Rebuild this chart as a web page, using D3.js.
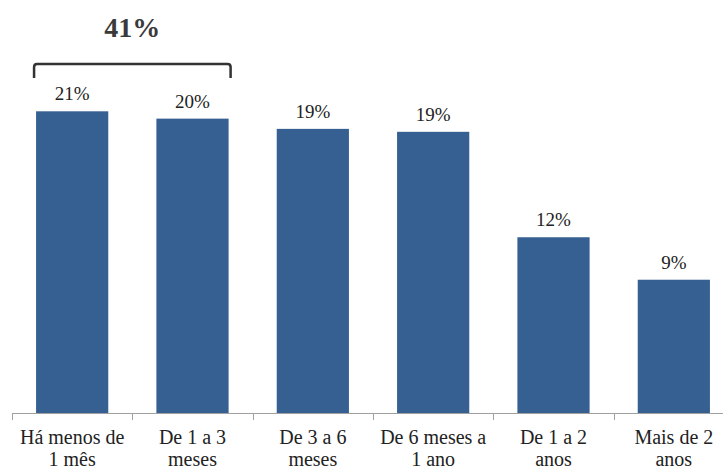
<!DOCTYPE html>
<html>
<head>
<meta charset="utf-8">
<script src="https://cdnjs.cloudflare.com/ajax/libs/d3/7.8.5/d3.min.js"></script>
<style>
  body { margin: 0; background: #fff; }
</style>
</head>
<body>
<div id="chart"></div>
<script>
var categories = [
  ['Há menos de', '1 mês'],
  ['De 1 a 3', 'meses'],
  ['De 3 a 6', 'meses'],
  ['De 6 meses a', '1 ano'],
  ['De 1 a 2', 'anos'],
  ['Mais de 2', 'anos']
];
var values = [20.6, 20.1, 19.4, 19.2, 12.0, 9.1];
var groupIdx = [0, 1];

var serif = "'Times New Roman', Tinos, 'Liberation Serif', 'Nimbus Roman', 'DejaVu Serif', 'Noto Serif', serif";
var width = 723, height = 470;
var svg = d3.select('#chart').append('svg')
  .attr('width', width)
  .attr('height', height);

var x = d3.scaleBand()
  .domain(d3.range(categories.length))
  .range([12, 734])
  .paddingInner(0.4)
  .paddingOuter(0.2);

var y = d3.scaleLinear()
  .domain([0, 28.2])
  .range([413, 0]);

var fmt = function(v){ return Math.round(v) + '%'; };

// bars
svg.selectAll('rect.bar')
  .data(values)
  .enter().append('rect')
  .attr('class', 'bar')
  .attr('x', function(d, i){ return x(i); })
  .attr('y', function(d){ return y(d); })
  .attr('width', x.bandwidth())
  .attr('height', function(d){ return y(0) - y(d); })
  .style('fill', '#365f92');

// value labels
svg.selectAll('text.val')
  .data(values)
  .enter().append('text')
  .attr('class', 'val')
  .attr('x', function(d, i){ return x(i) + x.bandwidth() / 2; })
  .attr('y', function(d){ return y(d) - 11; })
  .attr('text-anchor', 'middle')
  .attr('font-family', serif)
  .attr('font-size', 19)
  .attr('fill', '#222')
  .text(fmt);

// axis
var axis = svg.append('g');
axis.append('line')
  .attr('x1', 12).attr('x2', 734)
  .attr('y1', 413.5).attr('y2', 413.5)
  .style('stroke', '#a0a0a0');
var step = x.step();
axis.selectAll('line.tick')
  .data(d3.range(categories.length + 1))
  .enter().append('line')
  .attr('class', 'tick')
  .attr('x1', function(i){ return Math.round(12 + i * step) + 0.5; })
  .attr('x2', function(i){ return Math.round(12 + i * step) + 0.5; })
  .attr('y1', 413).attr('y2', 420)
  .style('stroke', '#a0a0a0');

// category labels
var cat = svg.selectAll('text.cat')
  .data(categories)
  .enter().append('text')
  .attr('class', 'cat')
  .attr('text-anchor', 'middle')
  .attr('x', function(d, i){ return x(i) + x.bandwidth() / 2; })
  .attr('y', 444)
  .attr('font-family', serif)
  .attr('font-size', 20)
  .attr('fill', '#222');
cat.selectAll('tspan')
  .data(function(d){ return d; })
  .enter().append('tspan')
  .attr('x', function(){ return d3.select(this.parentNode).attr('x'); })
  .attr('dy', function(d, j){ return j === 0 ? 0 : 22; })
  .text(function(d){ return d; });

// bracket over the first two bars
var bx0 = x(groupIdx[0]) - 2;
var bx1 = x(groupIdx[1]) + x.bandwidth() + 2;
svg.append('path')
  .attr('d', 'M' + bx0 + ',78 L' + bx0 + ',67 Q' + bx0 + ',64 ' + (bx0 + 3) + ',64 L' + (bx1 - 3) + ',64 Q' + bx1 + ',64 ' + bx1 + ',67 L' + bx1 + ',78')
  .style('fill', 'none')
  .style('stroke', '#333')
  .style('stroke-width', 2.5);

var total = d3.sum(groupIdx, function(i){ return values[i]; });
svg.append('text')
  .attr('x', (bx0 + bx1) / 2)
  .attr('y', 37)
  .attr('text-anchor', 'middle')
  .attr('font-family', serif)
  .attr('font-size', 28)
  .attr('font-weight', 'bold')
  .attr('fill', '#3a3a3a')
  .text(fmt(total));
</script>
</body>
</html>
